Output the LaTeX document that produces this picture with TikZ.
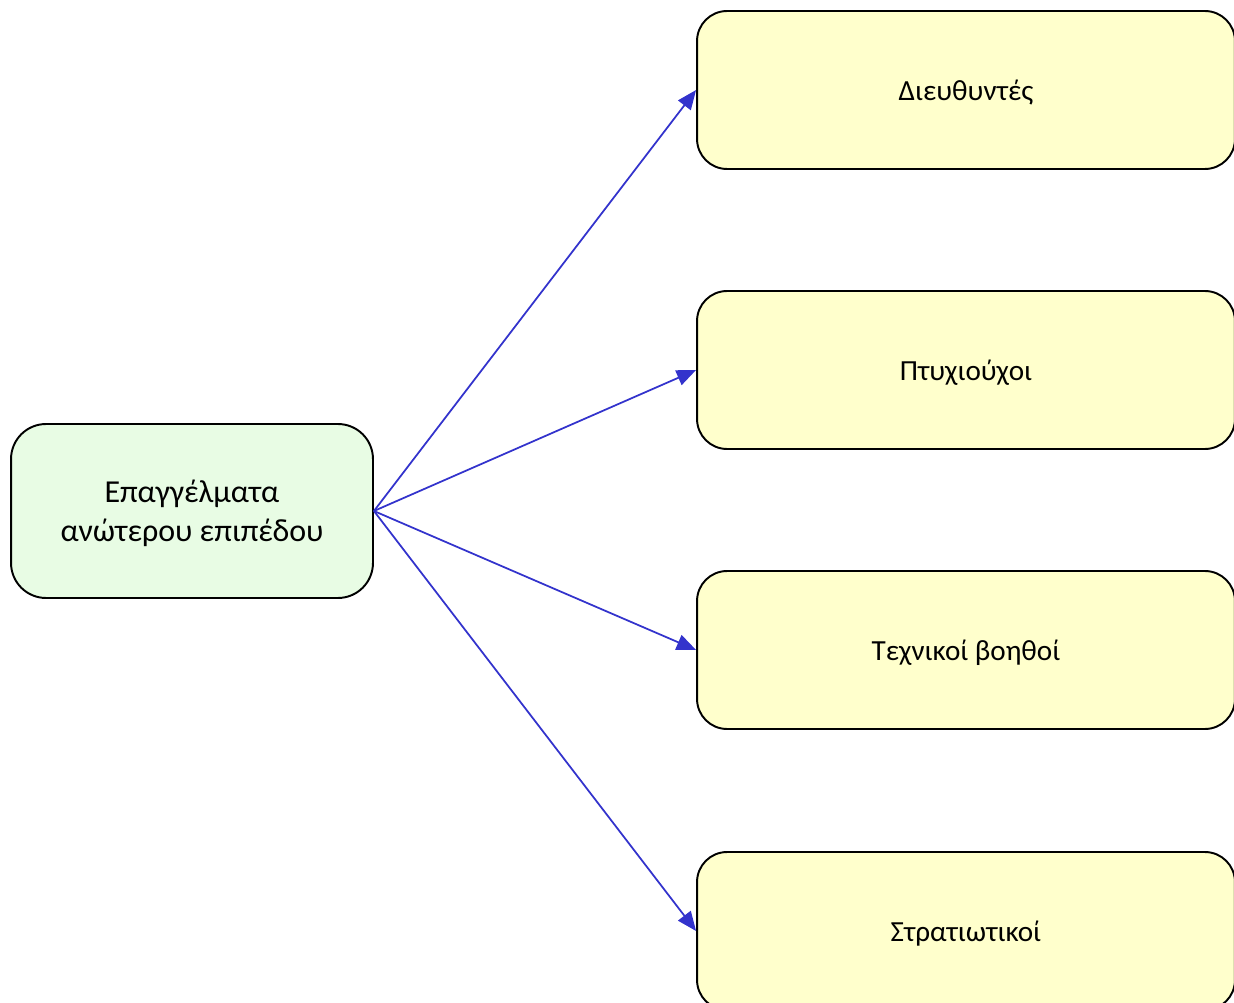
\documentclass[tikz,border=0pt]{standalone}
\usepackage{fontspec}
\setmainfont{Carlito}
\usepackage{tikz}
\usetikzlibrary{arrows.meta, positioning}
\definecolor{boxgreen}{HTML}{E8FCE4}
\definecolor{boxyellow}{HTML}{FFFFCC}
\definecolor{arrowblue}{HTML}{3333CC}

\begin{document}
\begin{tikzpicture}[
  x=0.02cm, y=-0.02cm,
  srcbox/.style={draw=black, line width=1.1pt, fill=boxgreen, rounded corners=0.7cm, minimum width=7.24cm, minimum height=3.48cm, align=center, font=\fontsize{18.2}{22}\selectfont, text depth=0pt},
  dstbox/.style={draw=black, line width=1.1pt, fill=boxyellow, rounded corners=0.6cm, minimum width=10.76cm, minimum height=3.16cm, align=center, font=\fontsize{16.6}{20}\selectfont, text depth=0pt},
  link/.style={draw=arrowblue, line width=1pt, -{Triangle[length=11pt, width=9pt]}},
]
  \useasboundingbox (0,0) rectangle (1234,1003);

  % Source
  \node[srcbox] (jobs) at (192,511) {Επαγγέλματα\\ανώτερου επιπέδου};

  % Targets
  \node[dstbox] (directors) at (966,90) {Διευθυντές};
  \node[dstbox] (graduates) at (966,370) {Πτυχιούχοι};
  \node[dstbox] (assistants) at (966,650) {Τεχνικοί βοηθοί};
  \node[dstbox] (military) at (966,931) {Στρατιωτικοί};

  % Links
  \foreach \t in {directors, graduates, assistants, military}
    \draw[link] (jobs.east) -- (\t.west);
\end{tikzpicture}
\end{document}
